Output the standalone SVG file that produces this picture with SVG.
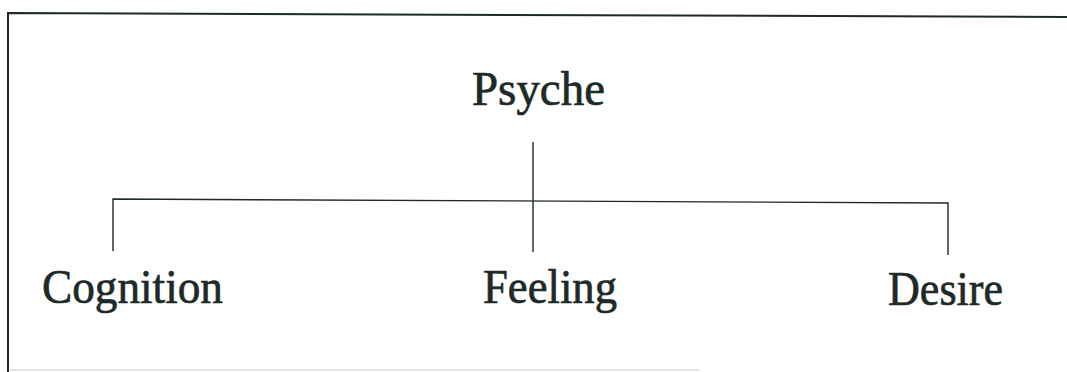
<svg xmlns="http://www.w3.org/2000/svg" width="1067" height="372" viewBox="0 0 1067 372">
<style>
.t{font-family:"Liberation Serif","Times New Roman",serif;font-size:49px;fill:#1e2a27;stroke:#1e2a27;stroke-width:0.7;}
.ln{stroke:#1e2a27;stroke-width:1.4;fill:none;}
.bd{stroke:#1e2a27;stroke-width:2;fill:none;}
</style>
<rect width="1067" height="372" fill="#ffffff"/>
<g id="frame">
<path class="bd" d="M1067,17 L8,13 L8,372"/>
<path d="M10,370 L700,370" stroke="#c8cccb" stroke-width="1" fill="none"/>
</g>
<g id="connectors">
<path class="ln" d="M533,142 L533,252"/>
<path class="ln" d="M113,251 L113,199 L948,203 L948,255"/>
</g>
<g id="psyche"><text class="t" x="472" y="105" textLength="133" lengthAdjust="spacingAndGlyphs">Psyche</text></g>
<g id="cognition"><text class="t" x="42" y="303" textLength="181" lengthAdjust="spacingAndGlyphs">Cognition</text></g>
<g id="feeling"><text class="t" x="483" y="303" textLength="134" lengthAdjust="spacingAndGlyphs">Feeling</text></g>
<g id="desire"><text class="t" x="888" y="305" textLength="115" lengthAdjust="spacingAndGlyphs">Desire</text></g>
</svg>
